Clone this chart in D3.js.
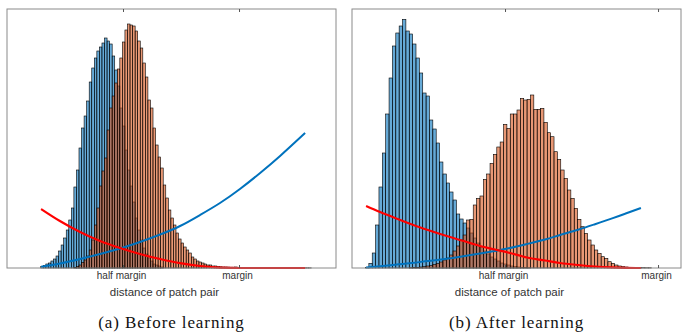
<!DOCTYPE html>
<html>
<head>
<meta charset="utf-8">
<script src="https://cdn.jsdelivr.net/npm/d3@7"></script>
<style>
  html, body { margin: 0; padding: 0; background: #fff; }
  svg { display: block; }
</style>
</head>
<body>
<svg id="chart" width="691" height="334"></svg>
<script>
// ---------------- DATA ----------------
// x in units of "margin"; histogram bins of equal width
const tickValues = [0.5, 1.0];
const tickLabels = ["half margin", "margin"];
const xLabel = "distance of patch pair";
const captions = ["(a) Before learning", "(b) After learning"];

const binWidth = 0.011;

// Panel (a): before learning
const xMaxA = 1.418;
const binStartA = 0.1453;
const positiveA = [1.5, 2.5, 4, 5, 7, 9, 12, 17, 23, 30, 38, 48, 60, 81, 98, 120, 140, 152, 167, 186,
  200, 210, 217, 221, 225, 230, 227, 224, 212, 198, 182, 160, 142, 118, 98, 82, 66, 50, 38, 28,
  20, 14, 10, 7, 4, 3, 2, 1];
const negativeOffsetA = 13;
const negativeA = [0.5, 1.5, 3, 5.5, 8, 12, 18, 28, 43, 60, 82, 97, 110, 138, 160, 172, 185, 199, 210, 226,
  238, 244, 243, 242, 237, 227, 220, 205, 191, 168, 160, 140, 123, 111, 100, 83, 70, 58, 50, 43,
  35, 29, 25, 21, 18, 15, 11, 9, 7, 6, 5, 4, 3, 3, 2, 2, 1.5, 1.2, 1,
  1, 0.9, 0.8, 0.8, 1, 0.7, 0.6, 0.5, 0.6, 0.5, 0.4, 0.4, 0.5, 0.3, 0.3, 0.4, 0.3, 0.2, 0.3, 0.2,
  0.2, 0.3, 0.2, 0.2, 0.1, 0.2, 0.1, 0.1, 0.2, 0.1, 0.1, 0.1, 0.1, 0.1];
const curveXA = [0.147, 0.228, 0.315, 0.401, 0.487, 0.573, 0.660, 0.746, 0.832, 0.918, 1.004, 1.091, 1.177, 1.285];
const redWeightA = [59, 47, 36, 27, 20, 14, 9, 4.8, 2, 0.4, 0, 0, 0, 0];
const blueWeightA = [1.3, 4.5, 9, 14, 19.5, 26, 33.5, 42, 53, 65, 79, 95, 112, 135];

// Panel (b): after learning
const xMaxB = 1.075;
const binStartB = 0.0441;
const positiveB = [0.7, 4.7, 15, 43, 81, 115, 154, 190, 222, 235, 242, 248.7, 237, 234, 224, 210, 195, 175, 172, 148,
  139, 125, 106, 94, 85, 76, 68, 54, 49, 45, 40, 35, 30, 25, 21, 17, 14, 11, 9, 7,
  5, 4, 3, 2, 1.5, 1, 0.7, 0.5, 0.3];
const negativeOffsetB = 13;
const negativeB = [0.2, 0.4, 0.6, 1, 1.3, 2, 2.5, 3.5, 4.5, 6, 8, 10, 13, 17, 22, 28, 33, 48, 48.7, 63,
  69.7, 72, 88.7, 94, 104.7, 113.7, 121, 126, 143.7, 139.7, 154, 154, 158, 169.7, 168, 168.7, 173, 158.7, 158.7, 159.7,
  145.7, 135.3, 131.3, 116.3, 108.7, 98, 89.7, 78, 69.7, 59.7, 48.7, 41.3, 34.7, 28, 23, 18, 14.7, 11.3, 9.7, 6.3,
  4.7, 3, 2, 1.3, 1, 0.7, 0.5, 0.4, 0.3, 0.3, 0.2, 0.2];
const curveXB = [0.046, 0.092, 0.141, 0.196, 0.248, 0.304, 0.359, 0.418, 0.467, 0.516, 0.572, 0.631, 0.680, 0.739, 0.794, 0.850, 0.892, 0.944];
const redWeightB = [62, 56, 50, 43.5, 38, 32.5, 27.5, 22, 18.5, 15, 10.5, 7.5, 5, 3, 1.5, 0.6, 0.2, 0];
const blueWeightB = [0.5, 1.8, 3.3, 5, 7, 9, 11.5, 14.5, 17, 20, 24, 28.5, 33, 38.3, 43.8, 49.6, 54.2, 60];

const yMax = 259;

// ---------------- DRAW ----------------
const svg = d3.select("#chart");
const COL_BLUE = "rgb(0,114,189)";
const COL_ORANGE = "rgb(217,83,25)";

const panels = [
  { left: 7, right: 336, xMax: xMaxA, binStart: binStartA, pos: positiveA, neg: negativeA, negOff: negativeOffsetA,
    cx: curveXA, red: redWeightA, blue: blueWeightA, caption: captions[0] },
  { left: 352, right: 681, xMax: xMaxB, binStart: binStartB, pos: positiveB, neg: negativeB, negOff: negativeOffsetB,
    cx: curveXB, red: redWeightB, blue: blueWeightB, caption: captions[1] }
];
const plotTop = 9, plotBottom = 268;

panels.forEach(p => {
  const x = d3.scaleLinear().domain([0, p.xMax]).range([p.left, p.right]);
  const y = d3.scaleLinear().domain([0, yMax]).range([plotBottom, plotTop]);
  const g = svg.append("g");

  const mkBins = (vals, off) => vals.map((v, i) => ({ x0: p.binStart + (i + off) * binWidth, v }))
    .filter(d => d.v > 0);

  const drawHist = (bins, color) => {
    g.append("g").selectAll("rect").data(bins).join("rect")
      .attr("x", d => x(d.x0))
      .attr("width", d => x(d.x0 + binWidth) - x(d.x0))
      .attr("y", d => y(d.v))
      .attr("height", d => y(0) - y(d.v))
      .attr("fill", color)
      .attr("fill-opacity", 0.6)
      .attr("stroke", "#000")
      .attr("stroke-width", 0.6);
  };
  drawHist(mkBins(p.pos, 0), COL_BLUE);
  drawHist(mkBins(p.neg, p.negOff), COL_ORANGE);

  const line = (vals, curve) => d3.line().x((d, i) => x(p.cx[i])).y(d => y(d)).curve(curve)(vals);
  g.append("path").attr("d", line(p.blue, d3.curveNatural)).attr("fill", "none").attr("stroke", "#0072BD").attr("stroke-width", 2);
  g.append("path").attr("d", line(p.red, d3.curveMonotoneX)).attr("fill", "none").attr("stroke", "#FF0000").attr("stroke-width", 2.2);

  // box
  g.append("rect").attr("x", p.left).attr("y", plotTop).attr("width", p.right - p.left).attr("height", plotBottom - plotTop)
    .attr("fill", "none").attr("stroke", "#8a8a8a").attr("stroke-width", 1);

  // inward ticks top and bottom
  const xAxisTop = d3.axisTop(x).tickValues(tickValues).tickSizeInner(-3).tickSizeOuter(0).tickFormat("");
  const gt = g.append("g").attr("transform", `translate(0,${plotTop})`).call(xAxisTop);
  gt.select(".domain").remove();
  gt.selectAll("line").attr("stroke", "#555");

  const xAxisBottom = d3.axisBottom(x).tickValues(tickValues).tickSizeInner(-3).tickSizeOuter(0)
    .tickPadding(10).tickFormat((d, i) => tickLabels[i]);
  const gb = g.append("g").attr("transform", `translate(0,${plotBottom})`).call(xAxisBottom);
  gb.select(".domain").remove();
  gb.selectAll("line").attr("stroke", "#555");
  gb.selectAll("text").attr("font-family", "Liberation Sans, Arial, sans-serif").attr("font-size", 10)
    .attr("fill", "#333").attr("dy", "0.1em").attr("dx", "-0.2em");

  const mid = (p.left + p.right) / 2;
  g.append("text").attr("x", mid - 7).attr("y", 296).attr("text-anchor", "middle")
    .attr("font-family", "Liberation Sans, Arial, sans-serif").attr("font-size", 11.5).attr("fill", "#333")
    .text(xLabel);

  g.append("text").attr("x", mid).attr("y", 328).attr("text-anchor", "middle")
    .attr("font-family", "Liberation Serif, 'DejaVu Serif', serif").attr("font-size", 17).attr("fill", "#111")
    .attr("letter-spacing", "0.9px")
    .text(p.caption);
});
</script>
</body>
</html>
